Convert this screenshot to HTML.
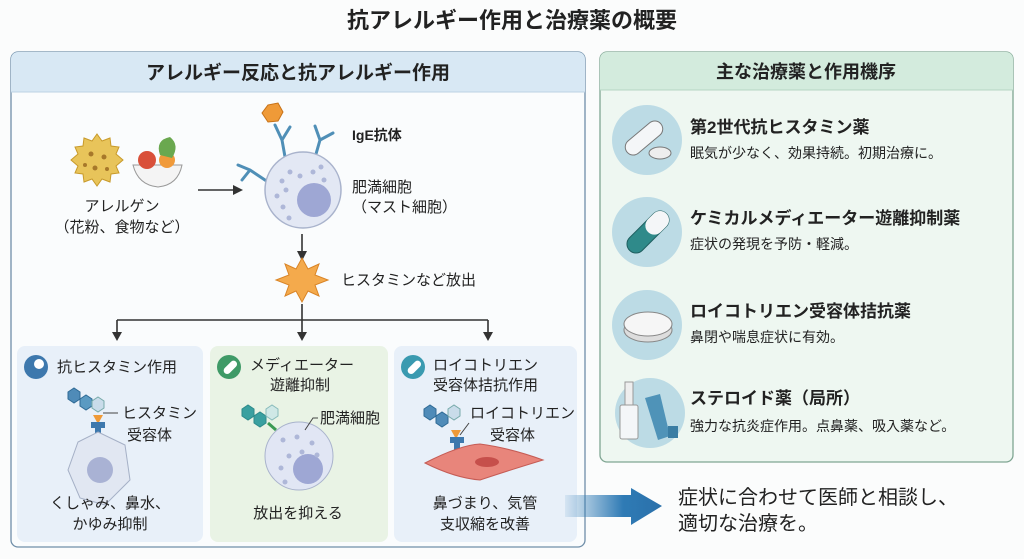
<!DOCTYPE html>
<html><head><meta charset="utf-8"><style>
html,body{margin:0;padding:0;background:#fbfcfc;}
svg{display:block;font-family:"Liberation Sans","Noto Sans CJK JP",sans-serif;}
</style></head><body>
<svg width="1024" height="559" viewBox="0 0 1024 559" xmlns="http://www.w3.org/2000/svg">
<defs>
<linearGradient id="ag" x1="0" x2="1"><stop offset="0" stop-color="#2f7bb5" stop-opacity="0.1"/><stop offset="0.6" stop-color="#2f7bb5"/><stop offset="1" stop-color="#2a70aa"/></linearGradient>
<marker id="ah" markerWidth="10" markerHeight="10" refX="5" refY="5" orient="auto" markerUnits="userSpaceOnUse"><path d="M0,0 L10,5 L0,10 z" fill="#333"/></marker>
</defs>
<rect width="1024" height="559" fill="#fbfcfc"/>
<text x="512" y="28" text-anchor="middle" font-size="22" font-weight="bold" fill="#222">抗アレルギー作用と治療薬の概要</text>

<!-- Left panel -->
<rect x="11" y="52" width="574" height="495" rx="7" fill="#fafcfd" stroke="#6f8ea8" stroke-width="1.3"/>
<path d="M11,92 V59 a7,7 0 0 1 7,-7 H578 a7,7 0 0 1 7,7 V92 z" fill="#d8e8f4"/>
<line x1="11" y1="92" x2="585" y2="92" stroke="#bcd2e4"/>
<text x="298" y="79" text-anchor="middle" font-size="19" font-weight="bold" fill="#222">アレルギー反応と抗アレルギー作用</text>

<!-- allergen -->
<g transform="translate(97,160)">
<polygon points="0,-26 5,-19 13,-22 14,-14 22,-13 19,-6 26,0 19,6 22,13 14,14 13,22 5,19 0,26 -5,19 -13,22 -14,14 -22,13 -19,6 -26,0 -19,-6 -22,-13 -14,-14 -13,-22 -5,-19" fill="#e8c45a" stroke="#c89a2a"/>
<circle cx="-6" cy="-6" r="2.5" fill="#a7782a"/><circle cx="7" cy="-3" r="2.5" fill="#a7782a"/><circle cx="-2" cy="8" r="2.5" fill="#a7782a"/><circle cx="-12" cy="5" r="2" fill="#a7782a"/><circle cx="10" cy="9" r="2" fill="#a7782a"/>
</g>
<g>
<path d="M133,165 H182 Q178,185 158,187 Q138,185 133,165 z" fill="#f4f4f4" stroke="#999"/>
<circle cx="147" cy="160" r="9" fill="#d9503a"/>
<circle cx="167" cy="160" r="8" fill="#f09a3a"/>
<path d="M160,155 Q155,140 170,137 Q180,145 172,158 z" fill="#6aa84f"/>
</g>
<text x="122" y="211" text-anchor="middle" font-size="15" fill="#222">アレルゲン</text>
<text x="122" y="232" text-anchor="middle" font-size="15" fill="#222">（花粉、食物など）</text>
<line x1="198" y1="190" x2="238" y2="190" stroke="#333" stroke-width="1.6" marker-end="url(#ah)"/>

<!-- mast cell -->
<polygon points="268,105 278,103 283,112 278,121 268,122 262,113" fill="#ef9a38" stroke="#c77218"/>
<g stroke="#4f8fb7" stroke-width="3" fill="none" stroke-linecap="round">
<path d="M287,168 L282,140 M282,140 L275,125 M282,140 L290,127"/>
<path d="M312,168 L320,140 M320,140 L315,126 M320,140 L333,133"/>
<path d="M268,182 L250,170 M250,170 L238,165 M250,170 L242,180"/>
</g>
<circle cx="303" cy="190" r="38" fill="#e3e8f4" stroke="#a9b3cc" stroke-width="1.5"/>
<circle cx="314" cy="200" r="17" fill="#9ea7d4"/>
<g fill="#aeb7d8"><circle cx="282" cy="181" r="2.5"/><circle cx="290" cy="172" r="2.5"/><circle cx="300" cy="176" r="2.5"/><circle cx="313" cy="172" r="2.5"/><circle cx="324" cy="180" r="2.5"/><circle cx="277" cy="196" r="2.5"/><circle cx="286" cy="190" r="2.5"/><circle cx="283" cy="207" r="2.5"/><circle cx="289" cy="218" r="2.5"/><circle cx="321" cy="167" r="2.5"/></g>
<text x="352" y="140" font-size="14" font-weight="bold" fill="#222">IgE抗体</text>
<text x="352" y="192" font-size="15" fill="#222">肥満細胞</text>
<text x="352" y="212" font-size="15" fill="#222">（マスト細胞）</text>
<line x1="302" y1="234" x2="302" y2="256" stroke="#333" stroke-width="1.6" marker-end="url(#ah)"/>
<g transform="translate(302,280)">
<polygon points="0,-22 6,-11 17,-16 13,-5 26,0 13,5 17,16 6,11 0,22 -6,11 -17,16 -13,5 -26,0 -13,-5 -17,-16 -6,-11" fill="#f4aa4c" stroke="#d98426"/>
</g>
<text x="341" y="285" font-size="15" fill="#222">ヒスタミンなど放出</text>
<path d="M302,304 V334 M117,320 H488 M117,320 V334 M488,320 V334" stroke="#333" stroke-width="1.6" fill="none"/>
<polygon points="112,332 122,332 117,341" fill="#333"/><polygon points="297,332 307,332 302,341" fill="#333"/><polygon points="483,332 493,332 488,341" fill="#333"/>

<!-- sub boxes -->
<rect x="17" y="346" width="186" height="196" rx="8" fill="#e8f0f9"/>
<rect x="210" y="346" width="178" height="196" rx="8" fill="#e9f3e5"/>
<rect x="394" y="346" width="183" height="196" rx="8" fill="#e8f0f9"/>
<circle cx="36" cy="367" r="12" fill="#3d78ad"/><circle cx="39" cy="364" r="5" fill="#fff"/>
<circle cx="229" cy="367" r="12" fill="#3f9a67"/><rect x="222" y="364" width="16" height="7" rx="3.5" fill="#fff" transform="rotate(-45 230 367)"/>
<circle cx="413" cy="367" r="12" fill="#3a9ab0"/><rect x="406" y="364" width="16" height="7" rx="3.5" fill="#fff" transform="rotate(-45 414 367)"/>
<text x="57" y="372" font-size="15" fill="#222">抗ヒスタミン作用</text>
<text x="250" y="370" font-size="15" fill="#222">メディエーター</text>
<text x="300" y="390" text-anchor="middle" font-size="15" fill="#222">遊離抑制</text>
<text x="433" y="370" font-size="15" fill="#222">ロイコトリエン</text>
<text x="433" y="390" font-size="15" fill="#222">受容体拮抗作用</text>

<!-- box1 illust -->
<g fill="#4f8bb8" stroke="#2f6a95"><polygon points="68,392 74,388 80,392 80,399 74,403 68,399"/><polygon points="80,399 86,395 92,399 92,406 86,410 80,406" fill="#5a9ac2"/></g>
<polygon points="92,401 98,397 104,401 104,408 98,412 92,408" fill="#c9dcea" stroke="#7aa"/>
<polygon points="93,415 103,415 98,424" fill="#ef9a38"/>
<path d="M118,413 H103" stroke="#444"/>
<path d="M91,422 h14 v6 h-4 v8 h-6 v-8 h-4z" fill="#3d78ad"/>
<polygon points="98,432 125,445 130,480 105,505 80,498 68,470 78,442" fill="#e1e7f2" stroke="#a5b0c6"/>
<circle cx="100" cy="470" r="13" fill="#a9b2d4"/>
<text x="122" y="418" font-size="15" fill="#222">ヒスタミン</text>
<text x="127" y="440" font-size="15" fill="#222">受容体</text>
<text x="110" y="508" text-anchor="middle" font-size="15" fill="#222">くしゃみ、鼻水、</text>
<text x="110" y="529" text-anchor="middle" font-size="15" fill="#222">かゆみ抑制</text>

<!-- box2 illust -->
<g stroke="#2d8a8a"><polygon points="242,409 248,405 254,409 254,416 248,420 242,416" fill="#3aa0a0"/><polygon points="254,416 260,412 266,416 266,423 260,427 254,423" fill="#3aa0a0"/></g>
<polygon points="266,409 272,405 278,409 278,416 272,420 266,416" fill="#cfe8e6" stroke="#8bb"/>
<path d="M268,423 L276,430" stroke="#3c9a54" stroke-width="3"/>
<circle cx="299" cy="456" r="34" fill="#e1e6f4" stroke="#a9b3cc"/>
<circle cx="308" cy="469" r="15" fill="#9ea7d4"/>
<g fill="#aeb7d8"><circle cx="283" cy="440" r="2.5"/><circle cx="297" cy="437" r="2.5"/><circle cx="312" cy="443" r="2.5"/><circle cx="289" cy="456" r="2.5"/><circle cx="281" cy="468" r="2.5"/><circle cx="285" cy="482" r="2.5"/><circle cx="302" cy="452" r="2.5"/><circle cx="317" cy="455" r="2.5"/></g>
<path d="M305,430 L313,418 H318" stroke="#444" fill="none"/>
<text x="320" y="423" font-size="15" fill="#222">肥満細胞</text>
<text x="298" y="518" text-anchor="middle" font-size="15" fill="#222">放出を抑える</text>

<!-- box3 illust -->
<g fill="#4f8bb8" stroke="#2f6a95"><polygon points="424,409 430,405 436,409 436,416 430,420 424,416"/><polygon points="436,416 442,412 448,416 448,423 442,427 436,423"/></g>
<polygon points="448,409 454,405 460,409 460,416 454,420 448,416" fill="#c9dcea" stroke="#7aa"/>
<polygon points="451,430 461,430 456,439" fill="#ef9a38"/>
<path d="M469,423 L460,435" stroke="#444"/>
<path d="M450,437 h14 v6 h-4 v8 h-6 v-8 h-4z" fill="#3d78ad"/>
<path d="M425,463 Q460,445 480,444 Q510,448 543,460 Q510,470 480,480 Q455,478 425,463 z" fill="#e8857b" stroke="#c55c55"/>
<ellipse cx="487" cy="462" rx="12" ry="5" fill="#c64f4b"/>
<text x="470" y="418" font-size="15" fill="#222">ロイコトリエン</text>
<text x="490" y="440" font-size="15" fill="#222">受容体</text>
<text x="485" y="508" text-anchor="middle" font-size="15" fill="#222">鼻づまり、気管</text>
<text x="485" y="529" text-anchor="middle" font-size="15" fill="#222">支収縮を改善</text>

<!-- Right panel -->
<rect x="600" y="52" width="413" height="410" rx="7" fill="#eef7f1" stroke="#7fa592" stroke-width="1.3"/>
<path d="M600,90 V59 a7,7 0 0 1 7,-7 H1006 a7,7 0 0 1 7,7 V90 z" fill="#d3ebdd"/>
<line x1="600" y1="90" x2="1013" y2="90" stroke="#b6d5c4"/>
<text x="806" y="78" text-anchor="middle" font-size="18" font-weight="bold" fill="#222">主な治療薬と作用機序</text>

<circle cx="647" cy="140" r="35" fill="#bcdbe5"/>
<rect x="622" y="130" width="44" height="16" rx="8" fill="#f4f6f8" stroke="#777" transform="rotate(-40 644 138)"/>
<ellipse cx="660" cy="153" rx="11" ry="6" fill="#eee" stroke="#777"/>
<text x="690" y="133" font-size="17" font-weight="bold" fill="#222">第2世代抗ヒスタミン薬</text>
<text x="690" y="158" font-size="14" fill="#222">眠気が少なく、効果持続。初期治療に。</text>

<circle cx="647" cy="232" r="35" fill="#bcdbe5"/>
<rect x="622" y="223" width="52" height="18" rx="9" fill="#2f8a8a" stroke="#1f5f60" transform="rotate(-45 648 232)"/>
<rect x="648" y="223" width="26" height="18" rx="9" fill="#f4f6f8" transform="rotate(-45 648 232)"/>
<text x="690" y="224" font-size="17" font-weight="bold" fill="#222">ケミカルメディエーター遊離抑制薬</text>
<text x="690" y="249" font-size="14" fill="#222">症状の発現を予防・軽減。</text>

<circle cx="647" cy="325" r="35" fill="#bcdbe5"/>
<ellipse cx="648" cy="330" rx="24" ry="12" fill="#ddd" stroke="#888"/>
<ellipse cx="648" cy="324" rx="24" ry="12" fill="#f6f6f6" stroke="#888"/>
<text x="690" y="317" font-size="17" font-weight="bold" fill="#222">ロイコトリエン受容体拮抗薬</text>
<text x="690" y="342" font-size="14" fill="#222">鼻閉や喘息症状に有効。</text>

<circle cx="650" cy="413" r="35" fill="#bcdbe5"/>
<rect x="620" y="405" width="18" height="34" rx="2" fill="#f4f6f8" stroke="#999"/>
<rect x="625" y="382" width="8" height="23" fill="#eee" stroke="#999"/>
<path d="M645,398 L660,394 L670,436 L658,440 z" fill="#4f93b8"/>
<rect x="668" y="426" width="10" height="12" fill="#3a7da3"/>
<text x="690" y="404" font-size="17" font-weight="bold" fill="#222">ステロイド薬（局所）</text>
<text x="690" y="431" font-size="14" fill="#222">強力な抗炎症作用。点鼻薬、吸入薬など。</text>

<!-- big arrow -->
<path d="M565,495 H631 V488 L662,506 L631,525 V517 H565 z" fill="url(#ag)"/>
<text x="678" y="504" font-size="20" fill="#222">症状に合わせて医師と相談し、</text>
<text x="678" y="530" font-size="20" fill="#222">適切な治療を。</text>
</svg>
</body></html>
